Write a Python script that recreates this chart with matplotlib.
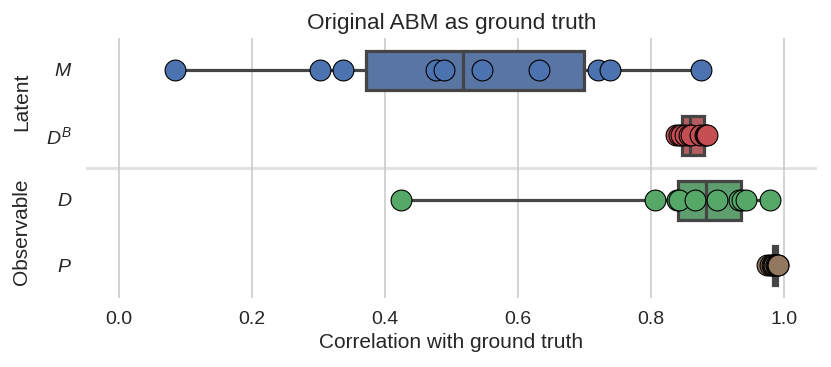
import matplotlib
matplotlib.use("Agg")
import matplotlib.pyplot as plt
import seaborn as sns

plt.rcParams['font.family'] = ['Liberation Sans', 'DejaVu Sans']
plt.rcParams['mathtext.fontset'] = 'custom'
plt.rcParams['mathtext.it'] = 'Liberation Sans:italic'
plt.rcParams['mathtext.rm'] = 'Liberation Sans'

# correlation of each run with ground truth
labels = ['$M$', '$D^B$', '$D$', '$P$']
M = [0.084, 0.302, 0.337, 0.477, 0.489, 0.546, 0.632, 0.721, 0.738, 0.876]
DB = [0.838, 0.843, 0.846, 0.851, 0.857, 0.861, 0.874, 0.882, 0.883, 0.885]
D = [0.4235, 0.806, 0.840, 0.843, 0.867, 0.899, 0.9325, 0.937, 0.9425, 0.980]
P = [0.975, 0.979, 0.983, 0.984, 0.986, 0.988, 0.989, 0.990, 0.991, 0.992]
series = [M, DB, D, P]
colors = ['#4C72B0', '#C44E52', '#55A868', '#937860']

fig, ax = plt.subplots(figsize=(8.31, 3.67), dpi=100)
fig.subplots_adjust(left=86/831, right=817/831, top=1-37.5/367, bottom=1-297.5/367)

ax.grid(axis='x', color='#cccccc', linewidth=1.2, zorder=0)
ax.axhline(1.5, color='#e0e0e0', linewidth=2, zorder=0)

edge = '#454545'
for i, (vals, c) in enumerate(zip(series, colors)):
    bp = ax.boxplot(vals, positions=[i], vert=False, widths=0.6, whis=(0, 100),
                    patch_artist=True, showfliers=False, manage_ticks=False,
                    boxprops=dict(facecolor=sns.desaturate(c, 0.75), edgecolor=edge, linewidth=2.3),
                    medianprops=dict(color=edge, linewidth=2.3),
                    whiskerprops=dict(color=edge, linewidth=2.3),
                    capprops=dict(color=edge, linewidth=2.3), capwidths=0.12)
    for b in bp['boxes']:
        b.set_zorder(2)
    ax.plot(vals, [i] * len(vals), 'o', color=c, markersize=15,
            markeredgecolor='black', markeredgewidth=0.8, zorder=3)

ax.set_xlim(-0.05, 1.05)
ax.set_ylim(3.5, -0.5)
ax.set_xticks([0.0, 0.2, 0.4, 0.6, 0.8, 1.0])
ax.set_xticklabels(['0.0', '0.2', '0.4', '0.6', '0.8', '1.0'])
ax.set_yticks(range(4))
ax.set_yticklabels(labels)
ax.tick_params(axis='both', length=0, labelsize=14, colors='#262626', pad=10)
for s in ax.spines.values():
    s.set_visible(False)

ax.set_title('Original ABM as ground truth', fontsize=16.2, color='#262626', pad=6)
ax.set_xlabel('Correlation with ground truth', fontsize=15, color='#262626', labelpad=3)

fig.text(22/831, 1-102/367, 'Latent', rotation=90, ha='center', va='center',
         fontsize=15, color='#262626')
fig.text(22/831, 1-232/367, 'Observable', rotation=90, ha='center', va='center',
         fontsize=15, color='#262626')

fig.savefig('out.png', dpi=100)
